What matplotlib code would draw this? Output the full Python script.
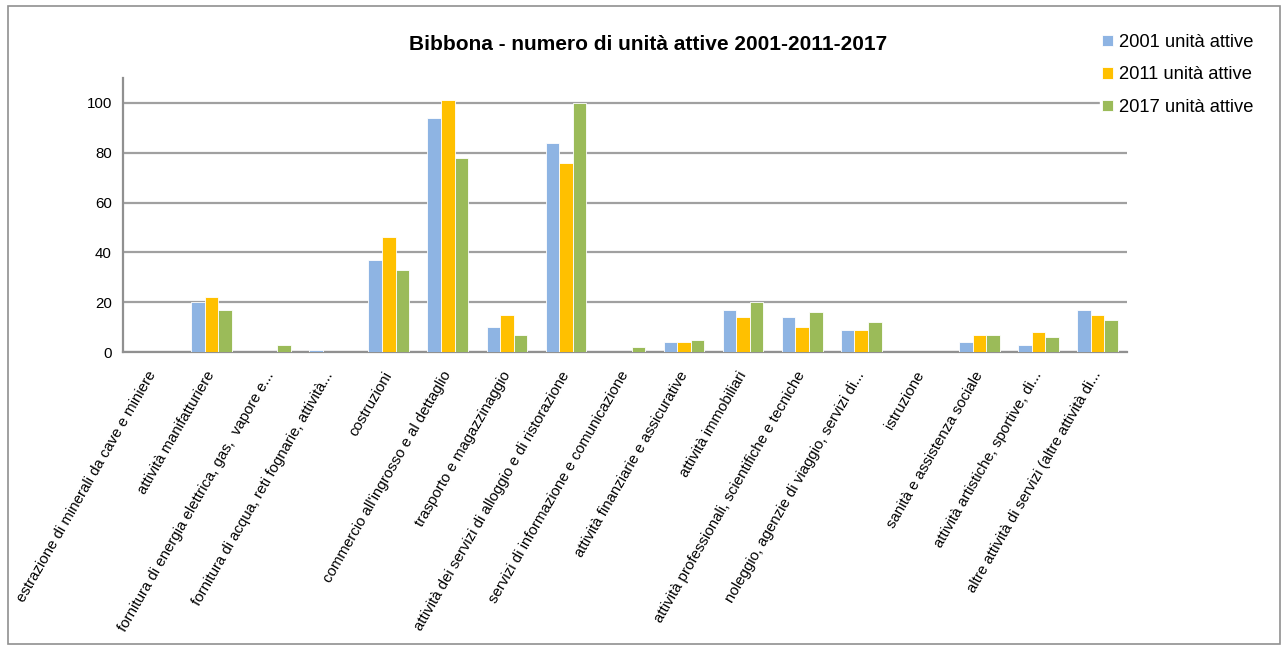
import numpy as np
import matplotlib.pyplot as plt
import matplotlib.transforms as mtransforms
from matplotlib.patches import Rectangle

plt.rcParams['font.family'] = ['Liberation Sans', 'DejaVu Sans']

categories = [
    "estrazione di minerali da cave e miniere",
    "attività manifatturiere",
    "fornitura di energia elettrica, gas,  vapore e...",
    "fornitura di acqua, reti fognarie, attività...",
    "costruzioni",
    "commercio all'ingrosso e al dettaglio",
    "trasporto e magazzinaggio",
    "attività dei servizi di alloggio e di ristorazione",
    "servizi di informazione e comunicazione",
    "attività finanziarie e assicurative",
    "attività immobiliari",
    "attività professionali, scientifiche e tecniche",
    "noleggio, agenzie di viaggio, servizi di...",
    "istruzione",
    "sanità e assistenza sociale",
    "attività artistiche, sportive, di...",
    "altre attività di servizi (altre attività di...",
]
v2001 = [0, 20, 0, 1, 37, 94, 10, 84, 0, 4, 17, 14, 9, 0, 4, 3, 17]
v2011 = [0, 22, 0, 0, 46, 101, 15, 76, 0, 4, 14, 10, 9, 0, 7, 8, 15]
v2017 = [0, 17, 3, 0, 33, 78, 7, 100, 2, 5, 20, 16, 12, 0, 7, 6, 13]
series = ["2001 unità attive", "2011 unità attive", "2017 unità attive"]
colors = ["#8EB4E3", "#FFC000", "#9BBB59"]

fig = plt.figure(figsize=(12.84, 6.48), dpi=100)
ax = fig.add_axes([123 / 1284, 1 - 352 / 648, (1127 - 123) / 1284, (352 - 78) / 648])

x = np.arange(len(categories))
w = 0.23
for i, (vals, lab, c) in enumerate(zip([v2001, v2011, v2017], series, colors)):
    ax.bar(x + (i - 1) * w, vals, w, color=c, label=lab, edgecolor="white", linewidth=0.6, zorder=3)

ax.set_xlim(-0.5, len(categories) - 0.5)
ax.set_ylim(0, 110)
ax.set_yticks(range(0, 101, 20))
ax.yaxis.grid(True, color="#A0A0A0", linewidth=1.6, zorder=0)
ax.set_axisbelow(True)
for s in ["top", "right"]:
    ax.spines[s].set_visible(False)
for s in ["left", "bottom"]:
    ax.spines[s].set_color("#909090")
    ax.spines[s].set_linewidth(1.6)
ax.tick_params(axis="both", length=0, labelsize=10.8)
ax.tick_params(axis="y", pad=8)
ax.tick_params(axis="x", pad=12)
ax.set_xticks(x)
ax.set_xticklabels(categories, rotation=60, ha="right", rotation_mode="anchor", fontsize=10.8)
shift = mtransforms.ScaledTranslation(-6 / 100, 0, fig.dpi_scale_trans)
for lbl in ax.get_xticklabels():
    lbl.set_transform(lbl.get_transform() + shift)

fig.text(648 / 1284, 1 - 45 / 648, "Bibbona - numero di unità attive 2001-2011-2017",
         ha="center", va="center", fontsize=15, fontweight="bold")

leg = fig.legend(loc="upper left", bbox_to_anchor=(1100 / 1284, 1 - 32 / 648), frameon=True,
                 fontsize=13.2, handlelength=0.6, handleheight=0.6, handletextpad=0.35,
                 labelspacing=0.85, borderpad=0.1, borderaxespad=0)
leg.get_frame().set_edgecolor("white")
leg.get_frame().set_facecolor("white")
leg.get_frame().set_alpha(1)

fig.patches.append(Rectangle((8 / 1284, 4 / 648), 1 - 12 / 1284, 1 - 10 / 648,
                             transform=fig.transFigure, fill=False,
                             edgecolor="#909090", linewidth=1.2))

fig.savefig("out.png", dpi=100)
